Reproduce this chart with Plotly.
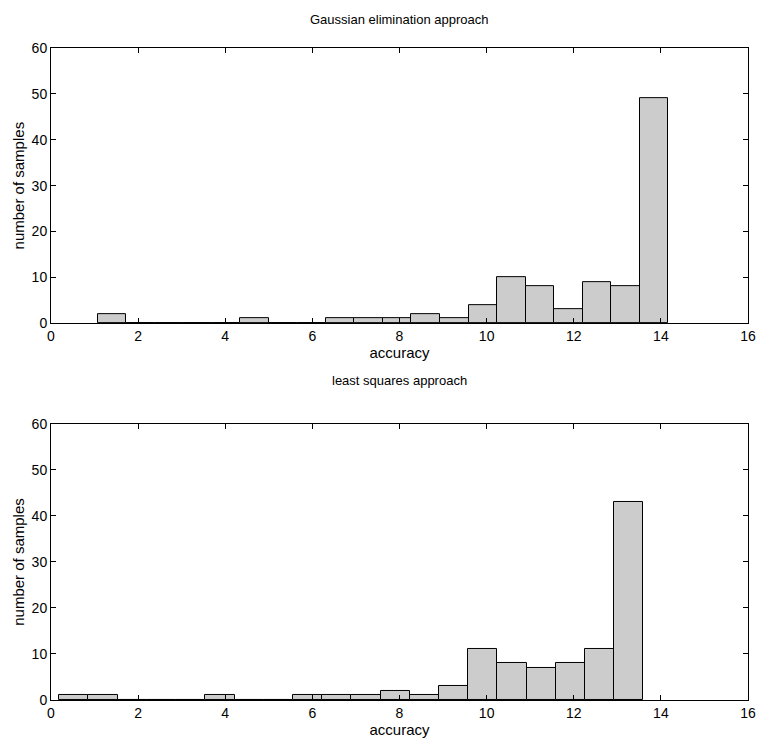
import plotly.graph_objects as go

# Data (MATLAB-style 20-bin histograms)
ge_min, ge_max = 1.07, 14.17
ge_counts = [2, 0, 0, 0, 0, 1, 0, 0, 1, 1, 1, 2, 1, 4, 10, 8, 3, 9, 8, 49]
ls_min, ls_max = 0.19, 13.60
ls_counts = [1, 1, 0, 0, 0, 1, 0, 0, 1, 1, 1, 2, 1, 3, 11, 8, 7, 8, 11, 43]

titles = ["Gaussian elimination approach", "least squares approach"]
xticks = [0, 2, 4, 6, 8, 10, 12, 14, 16]
yticks = [0, 10, 20, 30, 40, 50, 60]

W, H = 757, 754
FONT = "Liberation Sans, Arial, Helvetica, sans-serif"

fig = go.Figure()

def centers(lo, hi, n):
    w = (hi - lo) / n
    return [lo + w * (i + 0.5) for i in range(n)], w

domains = [[1 - 322 / H, 1 - 41 / H], [1 - 707 / H, 1 - 425 / H]]
for k, (lo, hi, counts) in enumerate([(ge_min, ge_max, ge_counts), (ls_min, ls_max, ls_counts)]):
    xs, w = centers(lo, hi, len(counts))
    xa = "x" if k == 0 else "x2"
    ya = "y" if k == 0 else "y2"
    fig.add_trace(go.Bar(x=xs, y=counts, width=w, xaxis=xa, yaxis=ya,
                         marker=dict(color="#cccccc", line=dict(color="black", width=1)),
                         showlegend=False, hoverinfo="x+y"))

axis_common = dict(showline=True, linecolor="black", linewidth=1, mirror="allticks",
                   ticks="inside", ticklen=5, tickcolor="black", showgrid=False, zeroline=False,
                   tickfont=dict(family=FONT, size=14, color="black"))

fig.update_layout(
    width=W, height=H, plot_bgcolor="white", paper_bgcolor="white",
    margin=dict(l=51, r=9, t=0, b=0), bargap=0,
    font=dict(family=FONT, size=14, color="black"),
    xaxis=dict(domain=[0, 1], range=[0, 16], tickvals=xticks, anchor="y",
               title=dict(text="accuracy", standoff=0, font=dict(size=15)), **axis_common),
    yaxis=dict(domain=domains[0], range=[0, 60], tickvals=yticks, anchor="x",
               title=dict(text="number of samples", standoff=3, font=dict(size=15)), **axis_common),
    xaxis2=dict(domain=[0, 1], range=[0, 16], tickvals=xticks, anchor="y2",
                title=dict(text="accuracy", standoff=0, font=dict(size=15)), **axis_common),
    yaxis2=dict(domain=domains[1], range=[0, 60], tickvals=yticks, anchor="x2",
                title=dict(text="number of samples", standoff=3, font=dict(size=15)), **axis_common),
    annotations=[
        dict(text=titles[0], x=0.5, y=1 - 12 / H, xref="paper", yref="paper",
             showarrow=False, font=dict(family=FONT, size=13), yanchor="middle"),
        dict(text=titles[1], x=0.5, y=1 - 381 / H, xref="paper", yref="paper",
             showarrow=False, font=dict(family=FONT, size=13), yanchor="middle"),
    ],
)

fig.write_html("out.html")
